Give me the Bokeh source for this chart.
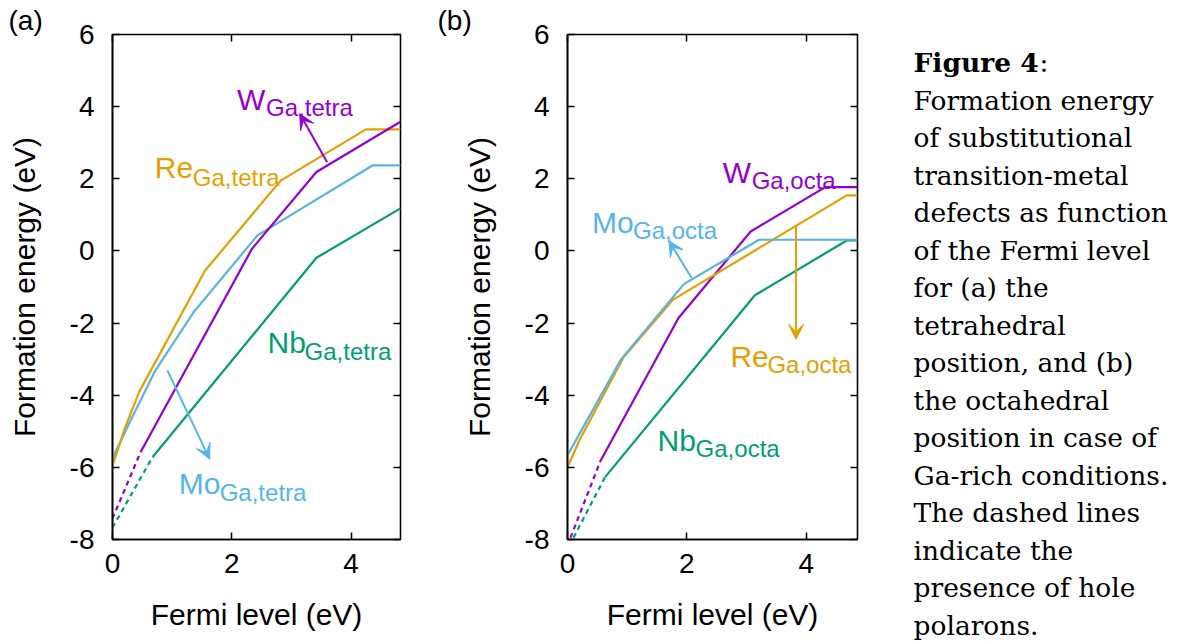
from bokeh.plotting import figure
from bokeh.models import (Range1d, LinearAxis, Label, Arrow, VeeHead,
                          FixedTicker)
from bokeh.layouts import row, column
from bokeh.embed import file_html
from bokeh.resources import INLINE

# ---------------- data ----------------
# panel (a): tetrahedral position
re_t_x = [0.0, 0.2, 0.45, 1.55, 2.82, 4.25, 4.83]
re_t_y = [-5.95, -4.95, -3.9, -0.55, 1.95, 3.37, 3.37]
mo_t_x = [0.0, 0.33, 0.72, 1.36, 2.43, 4.36, 4.83]
mo_t_y = [-5.75, -4.61, -3.31, -1.70, 0.43, 2.37, 2.37]
w_t_dash_x = [0.0, 0.47]
w_t_dash_y = [-7.42, -5.58]
w_t_x = [0.47, 2.34, 3.42, 4.83]
w_t_y = [-5.58, 0.06, 2.19, 3.58]
nb_t_dash_x = [0.0, 0.67]
nb_t_dash_y = [-7.67, -5.72]
nb_t_x = [0.67, 3.42, 4.83]
nb_t_y = [-5.72, -0.19, 1.18]

# panel (b): octahedral position
re_o_x = [0.0, 0.2, 0.94, 1.77, 4.68, 4.86]
re_o_y = [-6.0, -5.25, -2.95, -1.35, 1.54, 1.54]
mo_o_x = [0.0, 0.9, 1.95, 3.21, 4.86]
mo_o_y = [-5.67, -3.0, -0.92, 0.31, 0.31]
w_o_dash_x = [0.05, 0.55]
w_o_dash_y = [-7.95, -5.83]
w_o_x = [0.55, 1.86, 3.07, 4.32, 4.86]
w_o_y = [-5.83, -1.86, 0.54, 1.77, 1.77]
nb_o_dash_x = [0.1, 0.63]
nb_o_dash_y = [-7.95, -6.27]
nb_o_x = [0.63, 3.14, 4.68, 4.86]
nb_o_y = [-6.27, -1.23, 0.29, 0.29]

x_ticks = [0, 2, 4]
y_ticks = [-8, -6, -4, -2, 0, 2, 4, 6]

caption_bold = "Figure 4"
caption_lines = [
    "Formation energy",
    "of substitutional",
    "transition-metal",
    "defects as function",
    "of the Fermi level",
    "for (a) the",
    "tetrahedral",
    "position, and (b)",
    "the octahedral",
    "position in case of",
    "Ga-rich conditions.",
    "The dashed lines",
    "indicate the",
    "presence of hole",
    "polarons.",
]

ORANGE = "#E69F00"
BLUE = "#56B4E9"
PURPLE = "#9400D3"
GREEN = "#009E73"
SANS = "Liberation Sans"
SERIF = "DejaVu Serif"

FRAME_H = 505
FIG_H = 641


def make_panel(frame_w, xmax, bl, br, panel_label, title_offset):
    p = figure(frame_width=frame_w, frame_height=FRAME_H,
               x_range=Range1d(0, xmax), y_range=Range1d(-8, 6),
               output_backend="svg", toolbar_location=None,
               min_border_left=bl, min_border_right=br,
               min_border_top=34, min_border_bottom=FIG_H - 34 - FRAME_H,
               title=panel_label)
    p.title.text_font = SANS
    p.title.text_font_size = "28px"
    p.title.text_font_style = "normal"
    p.title.text_color = "black"
    p.title.align = "left"
    p.title.offset = title_offset
    p.title.standoff = -3
    p.grid.visible = False
    p.outline_line_color = "black"
    p.outline_line_width = 1.6
    p.outline_line_alpha = 1.0
    p.background_fill_color = "white"
    p.border_fill_color = "white"
    for ax in (p.xaxis[0], p.yaxis[0]):
        ax.major_tick_in = 7
        ax.major_tick_out = 0
        ax.minor_tick_line_color = None
        ax.major_tick_line_width = 1.5
        ax.axis_line_width = 1.6
        ax.major_label_text_font = SANS
        ax.major_label_text_font_size = "28px"
        ax.major_label_text_color = "black"
        ax.axis_label_text_font = SANS
        ax.axis_label_text_font_size = "30px"
        ax.axis_label_text_font_style = "normal"
        ax.axis_label_text_color = "black"
    p.xaxis[0].ticker = FixedTicker(ticks=x_ticks)
    p.yaxis[0].ticker = FixedTicker(ticks=y_ticks)
    p.xaxis[0].major_label_overrides = {t: str(t) for t in x_ticks}
    p.yaxis[0].major_label_overrides = {t: str(t) for t in y_ticks}
    p.xaxis[0].axis_label = "Fermi level (eV)"
    p.yaxis[0].axis_label = "Formation energy (eV)"
    p.xaxis[0].major_label_standoff = 14
    p.yaxis[0].major_label_standoff = 18
    p.xaxis[0].axis_label_standoff = 22
    p.yaxis[0].axis_label_standoff = 26
    # mirror ticks
    for loc, tk in (("right", y_ticks), ("above", x_ticks)):
        ax = LinearAxis(ticker=FixedTicker(ticks=tk),
                        major_label_overrides={t: "" for t in tk})
        ax.major_tick_in = 7
        ax.major_tick_out = 0
        ax.major_tick_line_width = 1.5
        ax.minor_tick_line_color = None
        ax.axis_line_color = None
        ax.major_label_standoff = 0
        ax.major_label_text_font_size = "1px"
        p.add_layout(ax, loc)
    return p


def add_label(p, x, y, main, sub, color, sub_dx, sub_dy=-9):
    p.add_layout(Label(x=x, y=y, text=main, text_font=SANS,
                       text_font_size="30px", text_color=color,
                       text_baseline="alphabetic"))
    p.add_layout(Label(x=x, y=y, text=sub, text_font=SANS,
                       text_font_size="24px", text_color=color,
                       text_baseline="alphabetic", x_offset=sub_dx,
                       y_offset=sub_dy))


def add_arrow(p, xs, ys, xe, ye, color):
    p.add_layout(Arrow(end=VeeHead(size=15, fill_color=color,
                                   line_color=color, line_width=1),
                       x_start=xs, y_start=ys, x_end=xe, y_end=ye,
                       line_color=color, line_width=2))


LW = 2.2
DASH = "5 4"

# ---------- panel (a) ----------
pa = make_panel(288, 4.83, 112, 30, "(a)", -104)
pa.line(nb_t_dash_x, nb_t_dash_y, color=GREEN, line_width=LW, line_dash=DASH)
pa.line(nb_t_x, nb_t_y, color=GREEN, line_width=LW)
pa.line(w_t_dash_x, w_t_dash_y, color=PURPLE, line_width=LW, line_dash=DASH)
pa.line(mo_t_x, mo_t_y, color=BLUE, line_width=LW)
pa.line(re_t_x, re_t_y, color=ORANGE, line_width=LW)
pa.line(w_t_x, w_t_y, color=PURPLE, line_width=LW)
add_arrow(pa, 3.6, 2.46, 3.14, 3.80, PURPLE)
add_arrow(pa, 0.92, -3.31, 1.63, -5.77, BLUE)
add_label(pa, 2.09, 4.19, "W", "Ga,tetra", PURPLE, 29, -8)
add_label(pa, 0.71, 2.32, "Re", "Ga,tetra", ORANGE, 38, -10)
add_label(pa, 2.60, -2.53, "Nb", "Ga,tetra", GREEN, 37, -9)
add_label(pa, 1.11, -6.44, "Mo", "Ga,tetra", BLUE, 41, -9)

# ---------- panel (b) ----------
pb = make_panel(290, 4.86, 137, 23, "(b)", -130)
pb.line(nb_o_dash_x, nb_o_dash_y, color=GREEN, line_width=LW, line_dash=DASH)
pb.line(nb_o_x, nb_o_y, color=GREEN, line_width=LW)
pb.line(w_o_dash_x, w_o_dash_y, color=PURPLE, line_width=LW, line_dash=DASH)
pb.line(w_o_x, w_o_y, color=PURPLE, line_width=LW)
pb.line(re_o_x, re_o_y, color=ORANGE, line_width=LW)
pb.line(mo_o_x, mo_o_y, color=BLUE, line_width=LW)
add_arrow(pb, 2.08, -0.75, 1.70, 0.28, BLUE)
add_arrow(pb, 3.83, 0.71, 3.83, -2.45, ORANGE)
add_label(pb, 2.60, 2.18, "W", "Ga,octa", PURPLE, 29, -8)
add_label(pb, 0.41, 0.80, "Mo", "Ga,octa", BLUE, 41, -8)
add_label(pb, 2.73, -2.94, "Re", "Ga,octa", ORANGE, 37, -8)
add_label(pb, 1.51, -5.25, "Nb", "Ga,octa", GREEN, 38, -8)

# ---------- caption ----------
CAP_W = 298
pc = figure(frame_width=CAP_W, frame_height=FIG_H,
            x_range=Range1d(880, 880 + CAP_W), y_range=Range1d(FIG_H, 0),
            output_backend="svg", toolbar_location=None, min_border=0,
            x_axis_location=None, y_axis_location=None, title=None)
pc.grid.visible = False
pc.outline_line_color = None
CX = 913
BASE = 62
STEP = 37.5
FS = "26.5px"
pc.add_layout(Label(x=CX, y=BASE, text=caption_bold, text_font=SERIF,
                    text_font_size=FS, text_font_style="bold",
                    text_color="black", text_baseline="alphabetic"))
pc.add_layout(Label(x=CX, y=BASE, text=":", text_font=SERIF,
                    text_font_size=FS, text_color="black",
                    text_baseline="alphabetic", x_offset=126))
for i, line in enumerate(caption_lines):
    pc.add_layout(Label(x=CX, y=BASE + (i + 1) * STEP, text=line,
                        text_font=SERIF, text_font_size=FS,
                        text_color="black", text_baseline="alphabetic"))

layout = row(pa, pb, column(pc))
open("out.html", "w").write(file_html(layout, INLINE))
